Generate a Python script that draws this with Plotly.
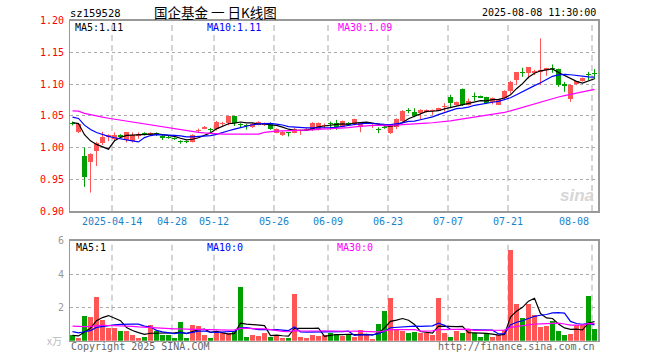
import plotly.graph_objects as go

# ---------------- data ----------------
dates = (
    ["2025-04-%02d" % d for d in (2, 3, 7, 8, 9, 10, 11, 14, 15, 16, 17, 18, 21, 22, 23, 24, 25, 28, 29, 30)]
    + ["2025-05-%02d" % d for d in (6, 7, 8, 9, 12, 13, 14, 15, 16, 19, 20, 21, 22, 23, 26, 27, 28, 29, 30)]
    + ["2025-06-%02d" % d for d in (3, 4, 5, 6, 9, 10, 11, 12, 13, 16, 17, 18, 19, 20, 23, 24, 25, 26, 27, 30)]
    + ["2025-07-%02d" % d for d in (1, 2, 3, 4, 7, 8, 9, 10, 11, 14, 15, 16, 17, 18, 21, 22, 23, 24, 25, 28, 29, 30, 31)]
    + ["2025-08-%02d" % d for d in (1, 4, 5, 6, 7, 8)]
)

opens = [1.039, 1.025, 0.987, 0.978, 0.995, 1.007, 1.016, 1.014, 1.020, 1.012,
         1.0105, 1.019, 1.0226, 1.0205, 1.0226, 1.018, 1.017, 1.0147, 1.009, 1.009,
         1.0095, 1.0263, 1.030, 1.0284, 1.029, 1.0368, 1.0384, 1.049, 1.0363, 1.0342,
         1.0321, 1.0353, 1.0353, 1.0374, 1.0237, 1.0205, 1.0242, 1.0237, 1.0263, 1.0284,
         1.0274, 1.029, 1.034, 1.0375, 1.0395, 1.0332, 1.0384, 1.0368, 1.0332, 1.038,
         1.0345, 1.0284, 1.032, 1.0226, 1.0321, 1.0421, 1.0595, 1.0568, 1.0542, 1.0558,
         1.058, 1.0584, 1.0632, 1.0795, 1.0665, 1.0921, 1.0679, 1.0795, 1.0816, 1.0795,
         1.0711, 1.0679, 1.0774, 1.0889, 1.1063, 1.1174, 1.1168, 1.1174, 1.1195, 1.1216,
         1.1242, 1.1237, 1.101, 1.0758, 1.0995, 1.1053, 1.1147, 1.1158]

highs = [1.041, 1.038, 1.000, 0.991, 1.009, 1.025, 1.021, 1.024, 1.021, 1.024,
         1.024, 1.024, 1.024, 1.024, 1.024, 1.020, 1.019, 1.016, 1.0115, 1.011,
         1.021, 1.030, 1.034, 1.031, 1.042, 1.0405, 1.050, 1.050, 1.0384, 1.037,
         1.0384, 1.0415, 1.0395, 1.0395, 1.030, 1.0258, 1.0245, 1.031, 1.0284, 1.031,
         1.040, 1.0395, 1.038, 1.041, 1.0437, 1.0425, 1.040, 1.0455, 1.039, 1.040,
         1.037, 1.032, 1.0335, 1.0368, 1.046, 1.059, 1.0621, 1.0621, 1.0605, 1.060,
         1.060, 1.063, 1.070, 1.0832, 1.0725, 1.093, 1.0774, 1.0868, 1.082, 1.080,
         1.079, 1.0765, 1.0905, 1.105, 1.119, 1.1258, 1.1263, 1.1226, 1.1721, 1.1258,
         1.131, 1.1245, 1.1036, 1.0995, 1.105, 1.1105, 1.1195, 1.1237]

lows = [1.035, 1.023, 0.938, 0.929, 0.971, 1.004, 1.010, 1.011, 1.015, 1.008,
        1.008, 1.014, 1.019, 1.019, 1.018, 1.012, 1.014, 1.012, 1.006, 1.007,
        1.008, 1.024, 1.029, 1.0226, 1.027, 1.034, 1.035, 1.034, 1.032, 1.0284,
        1.031, 1.035, 1.034, 1.028, 1.0226, 1.0184, 1.0174, 1.0226, 1.020, 1.027,
        1.026, 1.027, 1.030, 1.028, 1.0279, 1.032, 1.0342, 1.035, 1.0242, 1.037,
        1.031, 1.0226, 1.0295, 1.0216, 1.029, 1.040, 1.0542, 1.0479, 1.0442, 1.055,
        1.0516, 1.058, 1.0568, 1.0637, 1.066, 1.0655, 1.0663, 1.0737, 1.078, 1.0684,
        1.068, 1.067, 1.0747, 1.085, 1.0984, 1.1116, 1.1089, 1.1142, 1.0984, 1.1132,
        1.1179, 1.0958, 1.0879, 1.0721, 1.0985, 1.104, 1.1063, 1.1079]

closes = [1.037, 1.037, 0.954, 0.990, 1.007, 1.017, 1.0195, 1.020, 1.016, 1.024,
          1.020, 1.0215, 1.0216, 1.023, 1.0216, 1.015, 1.015, 1.0137, 1.0084, 1.0084,
          1.020, 1.0268, 1.033, 1.0274, 1.0405, 1.0379, 1.049, 1.0384, 1.0358, 1.0337,
          1.0374, 1.0405, 1.0384, 1.029, 1.029, 1.0247, 1.0237, 1.030, 1.0274, 1.0295,
          1.039, 1.0384, 1.0358, 1.037, 1.0332, 1.0421, 1.0358, 1.0453, 1.0384, 1.0385,
          1.035, 1.0279, 1.031, 1.0358, 1.0447, 1.0579, 1.0584, 1.050, 1.0595, 1.0595,
          1.059, 1.0626, 1.0642, 1.070, 1.0721, 1.0668, 1.0737, 1.079, 1.0784, 1.070,
          1.0774, 1.0758, 1.0889, 1.1037, 1.1184, 1.1168, 1.1263, 1.121, 1.1226, 1.1258,
          1.1237, 1.0984, 1.0968, 1.0984, 1.1047, 1.110, 1.1142, 1.1153]

volumes = [0.32, 0.18, 1.48, 1.42, 2.62, 1.24, 0.78, 0.78, 0.58, 0.58,
           0.34, 0.16, 0.22, 0.94, 0.58, 0.32, 0.36, 0.16, 1.12, 0.18,
           0.94, 0.88, 0.34, 0.18, 0.48, 0.48, 0.48, 0.58, 3.22, 0.24,
           0.34, 0.28, 0.44, 0.24, 0.36, 0.16, 0.18, 2.80, 0.20, 0.16,
           0.34, 0.28, 0.34, 0.48, 0.42, 0.28, 0.42, 0.22, 0.62, 0.36,
           0.10, 1.00, 1.78, 2.56, 0.72, 0.60, 0.46, 0.52, 0.46, 0.48,
           0.36, 2.56, 0.48, 0.22, 0.60, 0.46, 0.64, 0.44, 0.22, 0.46,
           0.22, 0.34, 0.66, 5.44, 2.20, 1.36, 2.20, 1.54, 0.84, 0.90,
           1.18, 0.58, 0.34, 0.42, 0.94, 0.94, 2.68, 0.72]

# estimated sessions before the window (needed for the moving averages)
hist_closes = [1.055, 1.058, 1.062, 1.065, 1.068, 1.070, 1.066, 1.064, 1.067, 1.069,
               1.066, 1.063, 1.060, 1.062, 1.064, 1.061, 1.059, 1.062, 1.060, 1.059,
               1.058, 1.060, 1.057, 1.055, 1.053, 1.045, 1.042, 1.038, 1.035]
hist_volumes = [1.2, 1.5, 0.9, 1.1, 0.8, 1.3, 0.95, 1.0, 1.15, 0.85,
                1.05, 0.9, 1.2, 1.1, 0.95, 1.0, 1.05, 0.9, 1.1, 1.0,
                0.9, 0.8, 0.7, 0.75, 0.65, 0.35, 0.3, 0.28, 0.35]

tick_dates = ["2025-04-14", "2025-04-28", "2025-05-12", "2025-05-26", "2025-06-09",
              "2025-06-23", "2025-07-07", "2025-07-21", "2025-08-08"]
tick_labels = ["2025-04-14", "04-28", "05-12", "05-26", "06-09", "06-23", "07-07", "07-21", "08-08"]
price_ticks = [0.90, 0.95, 1.00, 1.05, 1.10, 1.15, 1.20]
vol_ticks = [2, 4, 6]

price_ma_labels = ["MA5:1.11", "MA10:1.11", "MA30:1.09"]
vol_ma_labels = ["MA5:1", "MA10:0", "MA30:0"]

# ---------------- helpers ----------------
W, H = 660, 360
RED = "#FF5555"
GREEN = "#00A000"
MA_COLORS = ["#000000", "#0000FF", "#FF00FF"]
MONO = "DejaVu Sans Mono"


def py(p):
    return 1 - p / H


def px(p):
    return p / W


def moving_avg(hist, vals, n):
    allv = list(hist) + list(vals)
    off = len(hist)
    out = []
    for i in range(len(vals)):
        seg = allv[off + i - n + 1: off + i + 1]
        out.append(sum(seg) / len(seg))
    return out


idx = list(range(len(dates)))
up = [c >= o for o, c in zip(opens, closes)]
colors = [RED if u else GREEN for u in up]

fig = go.Figure()

# wicks
for col, flag in ((RED, True), (GREEN, False)):
    xs, ys = [], []
    for i in idx:
        if up[i] == flag:
            xs += [i, i, None]
            ys += [lows[i], highs[i], None]
    fig.add_trace(go.Scatter(x=xs, y=ys, mode="lines", line=dict(color=col, width=1),
                             hoverinfo="skip", showlegend=False, xaxis="x", yaxis="y"))

# bodies
min_h = 0.0016
base = [min(o, c) for o, c in zip(opens, closes)]
hgt = [max(abs(c - o), min_h) for o, c in zip(opens, closes)]
fig.add_trace(go.Bar(x=idx, y=hgt, base=base, width=0.82, marker=dict(color=colors, line=dict(width=0)),
                     hoverinfo="skip", showlegend=False, xaxis="x", yaxis="y"))

# price MAs
for n, col in zip((5, 10, 30), MA_COLORS):
    fig.add_trace(go.Scatter(x=idx, y=moving_avg(hist_closes, closes, n), mode="lines",
                             line=dict(color=col, width=1.2), hoverinfo="skip",
                             showlegend=False, xaxis="x", yaxis="y"))

# volume bars
fig.add_trace(go.Bar(x=idx, y=volumes, width=0.82, marker=dict(color=colors, line=dict(width=0)),
                     hoverinfo="skip", showlegend=False, xaxis="x2", yaxis="y2"))
for n, col in zip((5, 10, 30), MA_COLORS):
    fig.add_trace(go.Scatter(x=idx, y=moving_avg(hist_volumes, volumes, n), mode="lines",
                             line=dict(color=col, width=1.2), hoverinfo="skip",
                             showlegend=False, xaxis="x2", yaxis="y2"))

# ---------------- layout ----------------
left, right = 70, 598
slot = 6.0
xr = [-2.5 / slot, (right - left - 2.5) / slot]
P_TOP, P_BOT = 20.7, 211.0
V_TOP, V_BOT = 240.7, 340.7
GRID = "#AAAAAA"
BORDER = "#999999"

axis_common = dict(range=xr, domain=[px(left), px(right)], showgrid=False, zeroline=False,
                   showticklabels=False, ticks="", showline=True, mirror=True,
                   linecolor=BORDER, linewidth=1.5, fixedrange=True)

fig.update_layout(
    width=W, height=H, margin=dict(l=0, r=0, t=0, b=0),
    paper_bgcolor="white", plot_bgcolor="white",
    barmode="overlay", bargap=0,
    xaxis=dict(anchor="y", **axis_common),
    xaxis2=dict(anchor="y2", **axis_common),
    yaxis=dict(anchor="x", domain=[py(P_BOT), py(P_TOP)], range=[0.90, 1.20],
               tickvals=price_ticks, showticklabels=False, ticks="",
               showgrid=True, gridcolor=GRID, griddash="dot", gridwidth=1,
               zeroline=False, showline=True, mirror=True, linecolor=BORDER, linewidth=1.5,
               fixedrange=True),
    yaxis2=dict(anchor="x2", domain=[py(V_BOT), py(V_TOP)], range=[0, 6],
                tickvals=vol_ticks, showticklabels=False, ticks="",
                showgrid=True, gridcolor=GRID, griddash="dot", gridwidth=1,
                zeroline=False, showline=True, mirror=True, linecolor=BORDER, linewidth=1.5,
                fixedrange=True),
    showlegend=False,
)

# vertical dashed lines at label dates
shapes = []
for d in tick_dates:
    xv = dates.index(d) - 2.5 / slot
    for yt, yb in ((P_TOP, P_BOT), (V_TOP, V_BOT)):
        shapes.append(dict(type="line", xref="x", yref="paper", x0=xv, x1=xv,
                           y0=py(yb), y1=py(yt), line=dict(color=GRID, width=1, dash="6px,4px"),
                           layer="below"))
fig.update_layout(shapes=shapes)

ann = []


def text(x, y, s, color="#000000", size=10, anchor="left", family=MONO, xref="paper", yref="paper"):
    ann.append(dict(x=x, y=y, xref=xref, yref=yref, text=s, showarrow=False,
                    xanchor=anchor, yanchor="middle",
                    font=dict(family=family, size=size, color=color)))


# header
text(px(68), py(13), "sz159528", size=10.5)
text(px(215), py(12), "国企基金 一 日K线图", size=13.5, anchor="center", family="Noto Sans CJK SC")
text(px(598), py(13), "2025-08-08 11:30:00", anchor="right", size=10)

# price tick labels
for v in price_ticks:
    text(px(66), py(P_BOT - (v - 0.90) / 0.30 * (P_BOT - P_TOP)), "%.2f" % v, color="#FF0000", anchor="right")

# MA legends
for s, col, xx in zip(price_ma_labels, MA_COLORS, (73, 205, 336)):
    text(px(xx), py(28), s, color=col)
for s, col, xx in zip(vol_ma_labels, MA_COLORS, (74, 205, 335)):
    text(px(xx), py(247), s, color=col)

# date labels
for d, lab in zip(tick_dates, tick_labels):
    xv = dates.index(d) - 2.5 / slot
    last = d == tick_dates[-1]
    ann.append(dict(x=xv, y=py(221.5), xref="x", yref="paper", text=lab, showarrow=False,
                    xanchor="right" if last else "center", yanchor="middle",
                    xshift=-1 if last else 0,
                    font=dict(family=MONO, size=10, color="#1A82C8")))

# volume tick labels
for v in vol_ticks:
    text(px(66), py(V_BOT - v / 6 * (V_BOT - V_TOP)), str(v), color="#999999", anchor="right")
text(px(64), py(340), "x万", color="#BBBBBB", anchor="right", family="Noto Sans CJK SC", size=10)

# footer
text(px(69), py(346), "Copyright 2025 SINA.COM", color="#666666")
text(px(597), py(346), "http://finance.sina.com.cn", color="#666666", anchor="right")

# watermark
text(px(596), py(196), "<b><i>sina</i></b>", color="#D6D6D6", size=17, anchor="right", family="Liberation Sans")

fig.update_layout(annotations=ann)

fig.write_html("out.html", config={"displayModeBar": False, "staticPlot": True},
               post_script="document.body.style.margin='0px';document.body.style.padding='0px';")
